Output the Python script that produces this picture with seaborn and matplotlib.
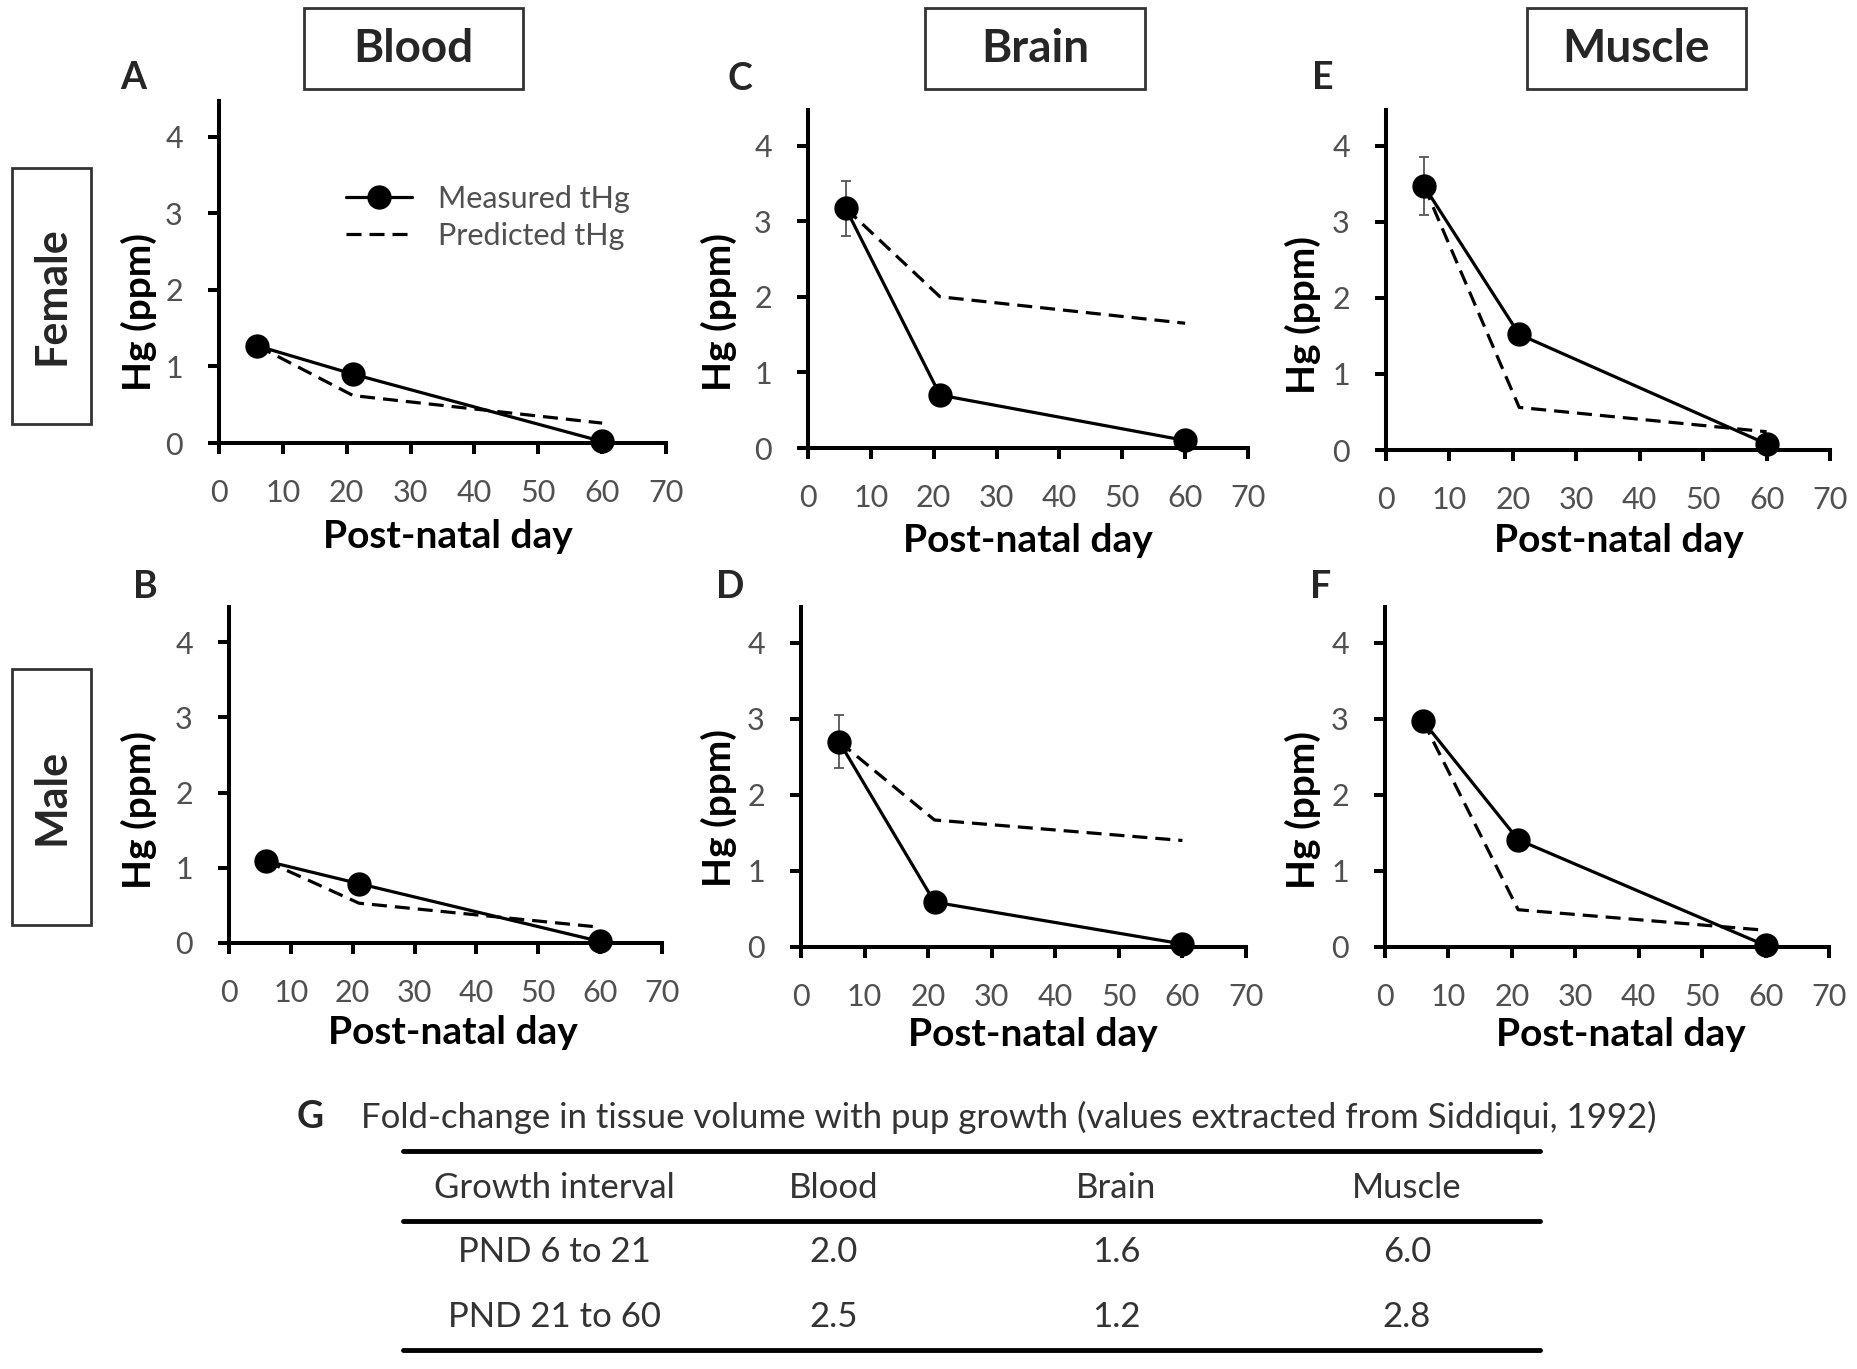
import matplotlib
matplotlib.use("Agg")
import matplotlib.pyplot as plt
from matplotlib.patches import Rectangle
from matplotlib.lines import Line2D
import seaborn as sns
import pandas as pd

# ---------------- data ----------------
days = [6, 21, 60]
x_ticks = [0, 10, 20, 30, 40, 50, 60, 70]
y_ticks = [0, 1, 2, 3, 4]

female_blood_measured = [1.27, 0.90, 0.02]
female_blood_predicted = [1.27, 0.62, 0.26]
female_blood_se = [0.04, 0.03, 0.01]

female_brain_measured = [3.17, 0.70, 0.10]
female_brain_predicted = [3.17, 2.00, 1.65]
female_brain_se = [0.36, 0.05, 0.03]

female_muscle_measured = [3.47, 1.52, 0.08]
female_muscle_predicted = [3.47, 0.56, 0.24]
female_muscle_se = [0.38, 0.06, 0.02]

male_blood_measured = [1.09, 0.79, 0.02]
male_blood_predicted = [1.09, 0.53, 0.21]
male_blood_se = [0.04, 0.03, 0.01]

male_brain_measured = [2.70, 0.59, 0.04]
male_brain_predicted = [2.70, 1.67, 1.40]
male_brain_se = [0.35, 0.04, 0.02]

male_muscle_measured = [2.97, 1.41, 0.02]
male_muscle_predicted = [2.97, 0.49, 0.22]
male_muscle_se = [0.06, 0.05, 0.01]

tissues = ["Blood", "Brain", "Muscle"]
sexes = ["Female", "Male"]
panel_letters = ["A", "C", "E", "B", "D", "F"]
legend_labels = ["Measured tHg", "Predicted tHg"]
x_label = "Post-natal day"
y_label = "Hg (ppm)"

table_title_letter = "G"
table_title = "Fold-change in tissue volume with pup growth (values extracted from Siddiqui, 1992)"
table_header = ["Growth interval", "Blood", "Brain", "Muscle"]
growth_intervals = ["PND 6 to 21", "PND 21 to 60"]
blood_fold = [2.0, 2.5]
brain_fold = [1.6, 1.2]
muscle_fold = [6.0, 2.8]

# ---------------- style ----------------
sns.set_style("ticks")
plt.rcParams["font.family"] = ["Lato", "DejaVu Sans"]

W, H = 1857, 1369
fig = plt.figure(figsize=(W / 100, H / 100), dpi=100)
fig.patch.set_facecolor("white")


def fx(px):
    return px / W


def fy(py):
    return 1 - py / H


# axes boxes in pixels: (x0, x1, ytop, ybottom)
boxes = [
    (219, 666, 101, 443), (808, 1248, 110, 448), (1386, 1830, 110, 450),
    (229, 662, 607, 943), (801, 1246, 607, 947), (1385, 1829, 607, 947),
]
panels = [
    (female_blood_measured, female_blood_predicted, female_blood_se),
    (female_brain_measured, female_brain_predicted, female_brain_se),
    (female_muscle_measured, female_muscle_predicted, female_muscle_se),
    (male_blood_measured, male_blood_predicted, male_blood_se),
    (male_brain_measured, male_brain_predicted, male_brain_se),
    (male_muscle_measured, male_muscle_predicted, male_muscle_se),
]
letter_pos = [(133, 78), (740, 79), (1323, 78), (145, 587), (730, 587), (1321, 587)]
ylabel_pos = [(139, 312), (719, 312), (1303, 315), (139, 810), (719, 808), (1303, 810)]
xlabel_pos = [(448, 537), (1028, 540), (1619, 541), (453, 1032), (1033, 1035), (1621, 1035)]

TICK_COLOR = "#505050"
LW = 2.3
DASH = (0, (4.7, 2.5))
MS = 17.5

for i, ((x0, x1, yt, yb), (meas, pred, se)) in enumerate(zip(boxes, panels)):
    ax = fig.add_axes([fx(x0), fy(yb), fx(x1 - x0), (yb - yt) / H])
    df = pd.DataFrame({"day": days, "measured": meas, "predicted": pred, "se": se})
    ax.errorbar(df["day"], df["measured"], yerr=df["se"], fmt="none",
                ecolor="#555555", elinewidth=1.3, capsize=3.6, capthick=1.3,
                zorder=1, clip_on=False)
    sns.lineplot(data=df, x="day", y="predicted", ax=ax, color="black",
                 lw=LW, linestyle=DASH, zorder=2, clip_on=False)
    sns.lineplot(data=df, x="day", y="measured", ax=ax, color="black",
                 lw=LW, marker="o", markersize=MS, markeredgewidth=0,
                 zorder=3, clip_on=False)
    ax.set_xlim(0, 70)
    ax.set_ylim(0, 4.47)
    ax.set_xticks(x_ticks)
    ax.set_yticks(y_ticks)
    for s in ["top", "right"]:
        ax.spines[s].set_visible(False)
    for s in ["left", "bottom"]:
        ax.spines[s].set_linewidth(2.9)
        ax.spines[s].set_color("black")
    ax.tick_params(axis="both", direction="out", width=2.9, length=8,
                   color="black", labelsize=22, labelcolor=TICK_COLOR)
    ax.tick_params(axis="x", pad=18)
    ax.tick_params(axis="y", pad=18)
    ax.set_xlabel(x_label, fontsize=28, fontweight="bold", color="black", va="center")
    ax.set_ylabel(y_label, fontsize=28, fontweight="bold", color="black", va="center")
    lxp, lyp = xlabel_pos[i]
    ax.xaxis.set_label_coords(fx(lxp), fy(lyp), transform=fig.transFigure)
    yxp, yyp = ylabel_pos[i]
    ax.yaxis.set_label_coords(fx(yxp), fy(yyp), transform=fig.transFigure)
    ax.set_facecolor("none")

    lx, ly = letter_pos[i]
    fig.text(fx(lx), fy(ly), panel_letters[i], fontsize=27, fontweight="bold",
             ha="center", va="center")

    if i == 0:
        handles = [
            Line2D([], [], color="black", lw=LW, marker="o", markersize=MS, markeredgewidth=0),
            Line2D([], [], color="black", lw=LW, linestyle=DASH),
        ]
        leg = ax.legend(handles, legend_labels, loc="upper left",
                        bbox_to_anchor=(fx(346), fy(185)),
                        bbox_transform=fig.transFigure, frameon=False,
                        fontsize=22, handlelength=2.15, handletextpad=0.85,
                        labelspacing=0.28, borderpad=0, borderaxespad=0)
        for t in leg.get_texts():
            t.set_color(TICK_COLOR)

# column header boxes
col_boxes = [(304, 523), (925, 1145), (1527, 1746)]
for (bx0, bx1), name in zip(col_boxes, tissues):
    fig.add_artist(Rectangle((fx(bx0), fy(89)), fx(bx1 - bx0), (89 - 8) / H,
                             transform=fig.transFigure, fill=False,
                             ec="#333333", lw=2))
    fig.text(fx((bx0 + bx1) / 2), fy(49), name, fontsize=33, fontweight="bold",
             ha="center", va="center")

# row header boxes
row_boxes = [(168, 424), (669, 925)]
for (by0, by1), name in zip(row_boxes, sexes):
    fig.add_artist(Rectangle((fx(12), fy(by1)), fx(91 - 12), (by1 - by0) / H,
                             transform=fig.transFigure, fill=False,
                             ec="#333333", lw=2))
    fig.text(fx(52), fy((by0 + by1) / 2), name, fontsize=31, fontweight="bold",
             ha="center", va="center", rotation=90)

# ---------------- table G ----------------
TABLE_FS = 25
fig.text(fx(310), fy(1117), table_title_letter, fontsize=27, fontweight="bold",
         ha="center", va="center")
fig.text(fx(361), fy(1117), table_title, fontsize=TABLE_FS, color="#333333",
         ha="left", va="center")
for ry in [1151, 1221, 1350]:
    fig.add_artist(Line2D([fx(403), fx(1540)], [fy(ry), fy(ry)],
                          transform=fig.transFigure, color="black", lw=3.5))
col_x = [554, 834, 1116, 1407]
for cx, h in zip(col_x, table_header):
    fig.text(fx(cx), fy(1188), h, fontsize=TABLE_FS, color="#333333", ha="center", va="center")
row_y = [1252, 1317]
for r, ry in enumerate(row_y):
    cells = [growth_intervals[r], f"{blood_fold[r]:.1f}", f"{brain_fold[r]:.1f}",
             f"{muscle_fold[r]:.1f}"]
    for cx, c in zip(col_x, cells):
        fig.text(fx(cx), fy(ry), c, fontsize=TABLE_FS, color="#333333", ha="center", va="center")

fig.savefig("out.png", dpi=100, facecolor="white")
